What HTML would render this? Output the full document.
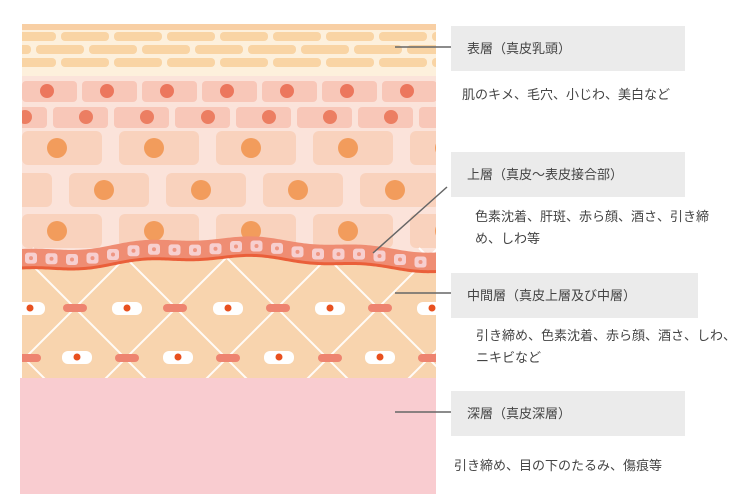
<!DOCTYPE html>
<html><head><meta charset="utf-8"><style>
body{margin:0;background:#fff;width:750px;height:500px;overflow:hidden;position:relative;font-family:"Liberation Sans","Noto Sans CJK JP",sans-serif;color:#444}
.box{position:absolute;background:#ebebeb;font-size:13px;line-height:45px;padding-left:16px;box-sizing:border-box;height:45px}
.t{position:absolute;font-size:13px;line-height:22px}
svg{position:absolute;left:0;top:0}
</style></head><body>
<svg id="s" width="750" height="500" xmlns="http://www.w3.org/2000/svg">
<defs><clipPath id="c"><rect x="22" y="24" width="414" height="354"/></clipPath></defs>
<g clip-path="url(#c)" id="g">
<rect x="22" y="24" width="414" height="52" fill="#fdf0dc"/>
<rect x="22" y="24" width="414" height="6" fill="#f8cfa4"/>
<rect x="22" y="76" width="414" height="190" fill="#fbe3da"/>
<rect x="22" y="255" width="414" height="130" fill="#f8d4ae"/>
</g>
<rect x="20" y="378" width="416" height="116" fill="#f9ccd0"/>
<g stroke="#666" stroke-width="1.5">
<line x1="395" y1="47" x2="452" y2="47"/>
<line x1="373" y1="253" x2="447" y2="187"/>
<line x1="395" y1="293" x2="452" y2="293"/>
<line x1="395" y1="412" x2="452" y2="412"/>
</g>
</svg>
<div class="box" style="left:451px;top:26px;width:234px">表層（真皮乳頭）</div>
<div class="t" style="left:462px;top:84px">肌のキメ、毛穴、小じわ、美白など</div>
<div class="box" style="left:451px;top:152px;width:234px">上層（真皮〜表皮接合部）</div>
<div class="t" style="left:475px;top:206px">色素沈着、肝斑、赤ら顔、酒さ、引き締<br>め、しわ等</div>
<div class="box" style="left:451px;top:273px;width:247px">中間層（真皮上層及び中層）</div>
<div class="t" style="left:476px;top:325px;white-space:nowrap">引き締め、色素沈着、赤ら顔、酒さ、しわ、<br>ニキビなど</div>
<div class="box" style="left:451px;top:391px;width:234px">深層（真皮深層）</div>
<div class="t" style="left:454px;top:455px">引き締め、目の下のたるみ、傷痕等</div>
<script>
var g=document.getElementById('g'),h='';
function r(x,y,w,hh,f,rx){h+='<rect x="'+x+'" y="'+y+'" width="'+w+'" height="'+hh+'" rx="'+(rx||3)+'" fill="'+f+'"/>';}
function c(x,y,rr,f){h+='<circle cx="'+x+'" cy="'+y+'" r="'+rr+'" fill="'+f+'"/>';}
[[36,0],[49,-25],[62,0]].forEach(function(a){for(var x=a[1]+8;x<440;x+=53)r(x,a[0]-4,48,9,'#f9d4a4',4);});
for(var x=22;x<440;x+=60){r(x,81,55,21,'#f8c7b8',4);c(x+25,91,7,'#ec775d');}
for(var x=-8;x<440;x+=61){r(x,107,55,21,'#f8c7b8',4);c(x+33,117,7,'#ec7e62');}
[[131,0],[173,-50],[214,0]].forEach(function(a){for(var x=22+a[1];x<440;x+=97){r(x,a[0],80,34,'#f9d2bd',6);c(x+35,a[0]+17,10,'#f29c5c');}});
var L='';for(var m=-6;m<8;m++){var x0=75+101*m;L+='M'+(x0-60)+',248 L'+(x0+140)+',448 M'+(x0+60)+',248 L'+(x0-140)+',448 ';}
h+='<path d="'+L+'" stroke="#fff" stroke-width="2" opacity="0.9" fill="none"/>';
[30,127,228,330,432].forEach(function(x){h+='<rect x="'+(x-15)+'" y="302" width="30" height="13" rx="6" fill="#fff"/>';c(x,308,3.5,'#e8501f');});
[77,178,279,380].forEach(function(x){h+='<rect x="'+(x-15)+'" y="351" width="30" height="13" rx="6" fill="#fff"/>';c(x,357,3.5,'#e8501f');});
[75,175,278,380].forEach(function(x){r(x-12,304,24,8,'#ee8470',4);});
[29,127,228,330,430].forEach(function(x){r(x-12,354,24,8,'#ee8470',4);});
function y(x){var d=(x-228)/220;return 261-13*Math.cos(Math.min(1,Math.abs(d))*Math.PI/2)*Math.cos(Math.min(1,Math.abs(d))*Math.PI/2)-2*Math.sin(x/18);}
var p='M22,'+(y(22)-10);for(var x=22;x<=436;x+=2)p+=' L'+x+','+(y(x)-10);
for(var x=436;x>=22;x-=2)p+=' L'+x+','+(y(x)+10);
h+='<path d="'+p+'Z" fill="#ef8d73"/>';
var p2='';for(var x=22;x<=436;x+=2)p2+=(x==22?'M':'L')+x+','+(y(x)+9)+' ';
h+='<path d="'+p2+'" stroke="#ea5f3a" stroke-width="3" fill="none"/>';
for(var x=31;x<440;x+=20.5){var yy=y(x);r(x-6,yy-6,12,11,'#f7cfcf',3);c(x,yy-0.5,2,'#ef9683');}
g.innerHTML+=h;
</script>
</body></html>
